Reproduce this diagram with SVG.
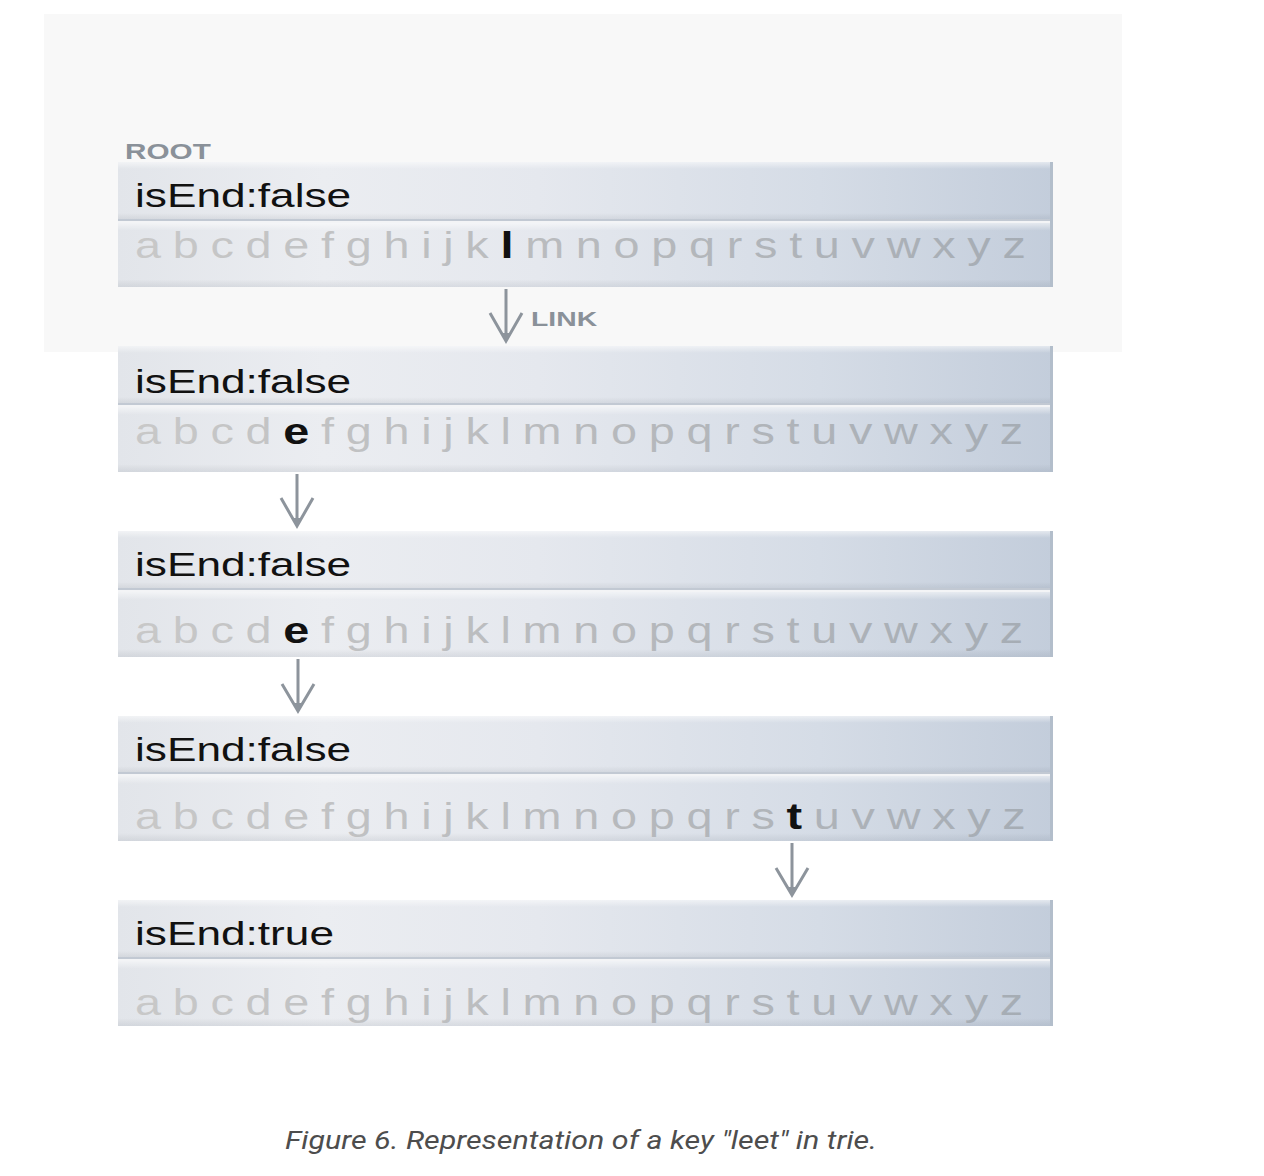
<svg xmlns="http://www.w3.org/2000/svg" width="1264" height="1176" viewBox="0 0 1264 1176">
<style>
.bar{fill:url(#barGrad)}
.shade{fill:url(#vShade)}
.edge{fill:#b3becb}
.sep{fill:#c2c9d3}
.hi{fill:#f3f4f6}
.lbl{font-family:"Liberation Sans",Arial,sans-serif;font-size:34px;fill:#111}
.abc{font-family:"Liberation Sans",Arial,sans-serif;font-size:36px;fill:url(#txtGrad)}
.hl{fill:#111;font-weight:bold}
.tag{font-family:"Liberation Sans",Arial,sans-serif;font-weight:bold;fill:#8a9199}
.arr{stroke:#8d949c;stroke-width:3;fill:none}
.tip{fill:#8d949c}
.cap{font-family:Roboto,"Liberation Sans",sans-serif;font-style:italic;font-size:26px;fill:#4d4d4d}
</style>
<defs>
<linearGradient id="barGrad" x1="0" y1="0" x2="1" y2="0">
<stop offset="0" stop-color="#e2e5ea"/>
<stop offset="0.22" stop-color="#ebedf1"/>
<stop offset="0.45" stop-color="#e5e8ee"/>
<stop offset="0.75" stop-color="#d5dce6"/>
<stop offset="1" stop-color="#c3cddb"/>
</linearGradient>
<linearGradient id="vShade" x1="0" y1="0" x2="0" y2="1">
<stop offset="0" stop-color="#ffffff" stop-opacity="0.55"/>
<stop offset="0.12" stop-color="#ffffff" stop-opacity="0"/>
<stop offset="0.88" stop-color="#000000" stop-opacity="0"/>
<stop offset="1" stop-color="#1a2a40" stop-opacity="0.08"/>
</linearGradient>
<linearGradient id="txtGrad" x1="0" y1="0" x2="1" y2="0">
<stop offset="0" stop-color="#c8c8c8"/>
<stop offset="0.5" stop-color="#b8babd"/>
<stop offset="1" stop-color="#a5acb4"/>
</linearGradient>
</defs>
<rect x="0" y="0" width="1264" height="1176" fill="#ffffff"/>
<rect x="44" y="14" width="1078" height="338" fill="#f8f8f8"/>
<g transform="translate(125,159) scale(1.35,1)"><text class="tag" font-size="22">ROOT</text></g>

<g id="node-root">
<rect class="bar" x="118" y="162" width="935" height="58"/>
<rect class="shade" x="118" y="162" width="935" height="58"/>
<rect class="sep" x="118" y="219" width="935" height="2"/>
<rect class="hi" x="118" y="221" width="935" height="2"/>
<rect class="bar" x="118" y="223" width="935" height="64"/>
<rect class="shade" x="118" y="223" width="935" height="64"/>
<rect class="edge" x="1050" y="162" width="3" height="125"/>
<g transform="translate(135,207) scale(1.3,1)"><text class="lbl">isEnd:false</text></g>
<g transform="translate(135,258) scale(1.3,1)"><text class="abc" letter-spacing="9">abcdefghijk<tspan class="hl">l</tspan>mnopqrstuvwxyz</text></g>
</g>

<g id="node-l">
<rect class="bar" x="118" y="346" width="935" height="58"/>
<rect class="shade" x="118" y="346" width="935" height="58"/>
<rect class="sep" x="118" y="403" width="935" height="2"/>
<rect class="hi" x="118" y="405" width="935" height="2"/>
<rect class="bar" x="118" y="407" width="935" height="65"/>
<rect class="shade" x="118" y="407" width="935" height="65"/>
<rect class="edge" x="1050" y="346" width="3" height="126"/>
<g transform="translate(135,393) scale(1.3,1)"><text class="lbl">isEnd:false</text></g>
<g transform="translate(135,444) scale(1.3,1)"><text class="abc" letter-spacing="9">abcd<tspan class="hl">e</tspan>fghijklmnopqrstuvwxyz</text></g>
</g>

<g id="node-le">
<rect class="bar" x="118" y="531" width="935" height="58"/>
<rect class="shade" x="118" y="531" width="935" height="58"/>
<rect class="sep" x="118" y="588" width="935" height="2"/>
<rect class="hi" x="118" y="590" width="935" height="2"/>
<rect class="bar" x="118" y="592" width="935" height="65"/>
<rect class="shade" x="118" y="592" width="935" height="65"/>
<rect class="edge" x="1050" y="531" width="3" height="126"/>
<g transform="translate(135,576) scale(1.3,1)"><text class="lbl">isEnd:false</text></g>
<g transform="translate(135,643) scale(1.3,1)"><text class="abc" letter-spacing="9">abcd<tspan class="hl">e</tspan>fghijklmnopqrstuvwxyz</text></g>
</g>

<g id="node-lee">
<rect class="bar" x="118" y="716" width="935" height="57"/>
<rect class="shade" x="118" y="716" width="935" height="57"/>
<rect class="sep" x="118" y="772" width="935" height="2"/>
<rect class="hi" x="118" y="774" width="935" height="2"/>
<rect class="bar" x="118" y="776" width="935" height="65"/>
<rect class="shade" x="118" y="776" width="935" height="65"/>
<rect class="edge" x="1050" y="716" width="3" height="125"/>
<g transform="translate(135,761) scale(1.3,1)"><text class="lbl">isEnd:false</text></g>
<g transform="translate(135,829) scale(1.3,1)"><text class="abc" letter-spacing="9">abcdefghijklmnopqrs<tspan class="hl">t</tspan>uvwxyz</text></g>
</g>

<g id="node-leet">
<rect class="bar" x="118" y="900" width="935" height="58"/>
<rect class="shade" x="118" y="900" width="935" height="58"/>
<rect class="sep" x="118" y="957" width="935" height="2"/>
<rect class="hi" x="118" y="959" width="935" height="2"/>
<rect class="bar" x="118" y="961" width="935" height="65"/>
<rect class="shade" x="118" y="961" width="935" height="65"/>
<rect class="edge" x="1050" y="900" width="3" height="126"/>
<g transform="translate(135,945) scale(1.3,1)"><text class="lbl">isEnd:true</text></g>
<g transform="translate(135,1015) scale(1.3,1)"><text class="abc" letter-spacing="9">abcdefghijklmnopqrstuvwxyz</text></g>
</g>

<g id="connectors">
<path class="arr" d="M506 289 V340 M490 313 L506 341 L522 313"/>
<polygon class="tip" points="501,333 511,333 506,342"/>
<g transform="translate(531,326) scale(1.35,1)"><text class="tag" font-size="21">LINK</text></g>
<path class="arr" d="M297 474 V525 M281 498 L297 526 L313 498"/>
<polygon class="tip" points="292,518 302,518 297,527"/>
<path class="arr" d="M298 659 V710 M282 684 L298 711 L314 684"/>
<polygon class="tip" points="293,703 303,703 298,712"/>
<path class="arr" d="M792 843 V894 M776 868 L792 895 L808 868"/>
<polygon class="tip" points="787,887 797,887 792,896"/>
</g>

<text class="cap" x="285" y="1149" textLength="592" lengthAdjust="spacingAndGlyphs">Figure 6. Representation of a key "leet" in trie.</text>
</svg>
